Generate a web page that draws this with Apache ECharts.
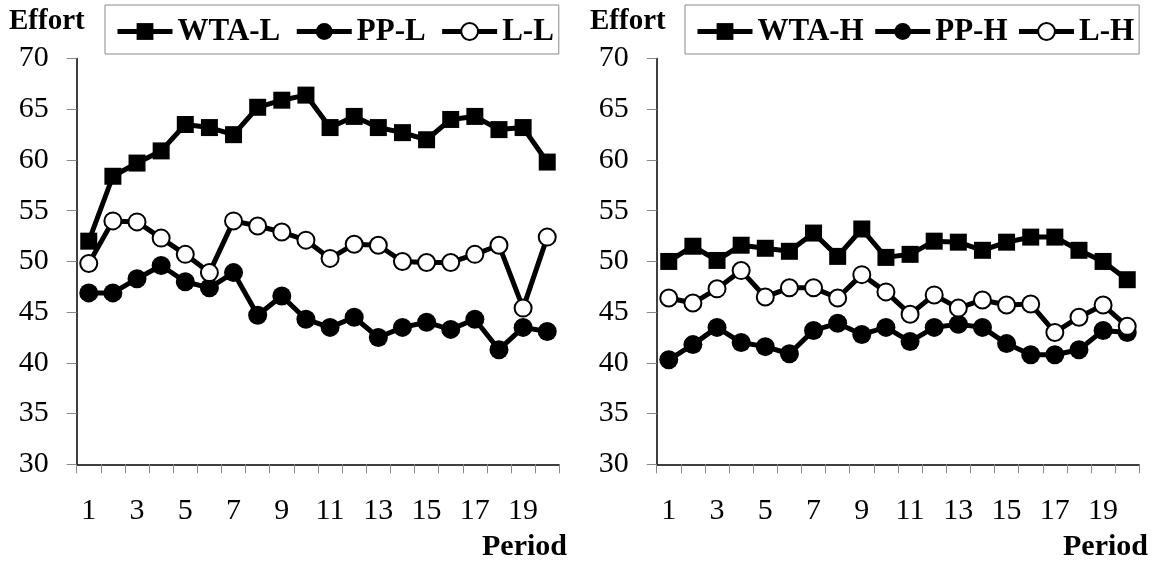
<!DOCTYPE html>
<html>
<head>
<meta charset="utf-8">
<script src="https://cdn.jsdelivr.net/npm/echarts@6/dist/echarts.min.js"></script>
<style>
html,body{margin:0;padding:0;background:#fff;}
#c{width:1154px;height:567px;}
</style>
</head>
<body>
<div id="c"></div>
<script>
var periods = ['1','2','3','4','5','6','7','8','9','10','11','12','13','14','15','16','17','18','19','20'];
var wtaL = [52.0,58.4,59.7,60.9,63.5,63.2,62.5,65.2,65.9,66.4,63.2,64.3,63.2,62.7,62.0,64.0,64.3,63.0,63.2,59.8];
var ppL  = [46.9,46.9,48.3,49.6,48.0,47.4,48.9,44.7,46.6,44.3,43.5,44.5,42.5,43.5,44.0,43.3,44.3,41.3,43.5,43.1];
var lL   = [49.8,54.0,53.9,52.3,50.7,48.9,54.0,53.5,52.9,52.1,50.3,51.7,51.6,50.0,49.9,49.9,50.7,51.6,45.4,52.4];
var wtaH = [50.0,51.5,50.1,51.6,51.3,51.0,52.8,50.5,53.2,50.4,50.7,52.0,51.9,51.1,51.9,52.4,52.4,51.1,50.0,48.2];
var ppH  = [40.3,41.8,43.5,42.0,41.6,40.9,43.2,43.9,42.8,43.5,42.1,43.5,43.8,43.5,41.9,40.8,40.8,41.3,43.2,43.0];
var lH   = [46.4,45.9,47.3,49.1,46.5,47.4,47.4,46.4,48.7,47.0,44.8,46.7,45.4,46.2,45.7,45.8,43.0,44.5,45.7,43.6];
var yMin = 30, yMax = 70, yStep = 5;
var namesL = ['WTA-L','PP-L','L-L'];
var namesH = ['WTA-H','PP-H','L-H'];

var FONT = '"Liberation Serif","Times New Roman",serif';
var chart = echarts.init(document.getElementById('c'), null, {renderer:'canvas'});

function xAxis(idx){
  return {
    type:'category', gridIndex:idx, data:periods, boundaryGap:true,
    axisLine:{lineStyle:{color:'#000',width:1.5}},
    axisTick:{show:true, interval:0, length:9, inside:false, lineStyle:{color:'#8a8a8a',width:1}},
    axisLabel:{interval:1, margin:32, color:'#000', fontFamily:FONT, fontSize:30},
    splitLine:{show:false}
  };
}
function yAxis(idx){
  return {
    type:'value', gridIndex:idx, min:yMin, max:yMax, interval:yStep,
    axisLine:{show:true, lineStyle:{color:'#000',width:1.5}},
    axisTick:{show:true, length:10, lineStyle:{color:'#8a8a8a',width:1}},
    axisLabel:{margin:28, color:'#000', fontFamily:FONT, fontSize:30},
    splitLine:{show:false}
  };
}
function series(name, data, idx, kind){
  var s = {
    name:name, type:'line', xAxisIndex:idx, yAxisIndex:idx, data:data,
    lineStyle:{color:'#000', width:5},
    showAllSymbol:true, animation:false
  };
  if(kind==='sq'){ s.symbol='rect'; s.symbolSize=17; s.itemStyle={color:'#000'}; }
  else if(kind==='dot'){ s.symbol='circle'; s.symbolSize=19; s.itemStyle={color:'#000'}; }
  else { s.symbol='circle'; s.symbolSize=17; s.itemStyle={color:'#fff', borderColor:'#000', borderWidth:2}; s.z=3; }
  return s;
}
function legend(idx, names, left, gap){
  return {
    data:names, left:left, top:5, orient:'horizontal',
    padding:[11,5,7,10], itemGap:gap, itemWidth:55, itemHeight:21,
    borderColor:'#8a8a8a', borderWidth:1,
    lineStyle:{width:5},
    textStyle:{fontFamily:FONT, fontSize:31, fontWeight:'bold', color:'#000'}
  };
}

chart.setOption({
  backgroundColor:'#fff',
  animation:false,
  grid:[
    {left:76.7, right:594.7, top:58.6, bottom:102.7},
    {left:656.7, right:14.7, top:58.6, bottom:102.7}
  ],
  xAxis:[xAxis(0), xAxis(1)],
  yAxis:[yAxis(0), yAxis(1)],
  legend:[legend(0, namesL, 105, 14), legend(1, namesH, 685, 9)],
  series:[
    series(namesL[0], wtaL, 0, 'sq'),
    series(namesL[1], ppL, 0, 'dot'),
    series(namesL[2], lL, 0, 'hollow'),
    series(namesH[0], wtaH, 1, 'sq'),
    series(namesH[1], ppH, 1, 'dot'),
    series(namesH[2], lH, 1, 'hollow')
  ],
  graphic:[
    {type:'text', left:9, top:7, style:{text:'Effort', font:'bold 29px '+FONT, fill:'#000'}},
    {type:'text', left:590, top:7, style:{text:'Effort', font:'bold 29px '+FONT, fill:'#000'}},
    {type:'text', right:1154-567, top:532, style:{text:'Period', font:'bold 30px '+FONT, fill:'#000'}},
    {type:'text', right:6, top:532, style:{text:'Period', font:'bold 30px '+FONT, fill:'#000'}}
  ]
});
</script>
</body>
</html>
